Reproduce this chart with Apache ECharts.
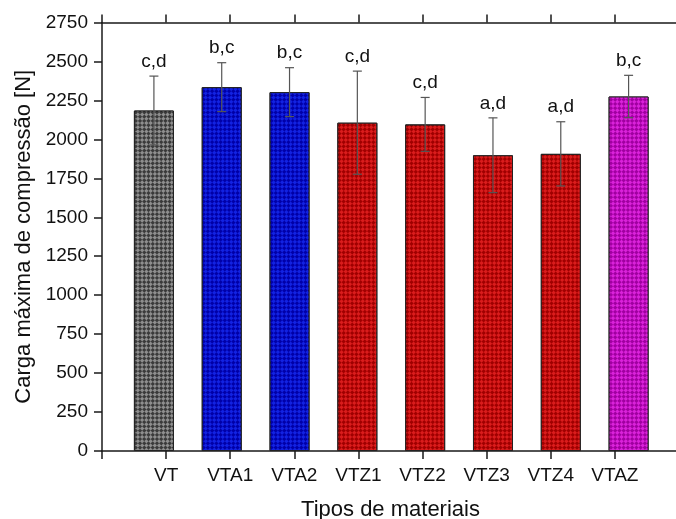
<!DOCTYPE html>
<html>
<head>
<meta charset="utf-8">
<script src="https://cdn.jsdelivr.net/npm/echarts@6/dist/echarts.min.js"></script>
<style>
html,body{margin:0;padding:0;background:#fff;}
#chart{width:676px;height:519px;}
</style>
</head>
<body>
<div id="chart"></div>
<script>
// ---- data ----
var categories = ['VT', 'VTA1', 'VTA2', 'VTZ1', 'VTZ2', 'VTZ3', 'VTZ4', 'VTAZ'];
var means = [2185, 2335, 2303, 2107, 2096, 1898, 1907, 2275];
var sds = [221, 157, 157, 331, 173, 240, 206, 136];
var letters = ['c,d', 'b,c', 'b,c', 'c,d', 'c,d', 'a,d', 'a,d', 'b,c'];
var yTicks = [0, 250, 500, 750, 1000, 1250, 1500, 1750, 2000, 2250, 2500, 2750];

// ---- styles ----
var baseColors = ['#3a3a3a', '#0000a8', '#0000a8', '#a00000', '#a00000', '#a00000', '#a00000', '#a000a0'];
var decalColors = ['#8e8e8e', '#1222e2', '#1222e2', '#da1c1c', '#da1c1c', '#da1c1c', '#da1c1c', '#da22da'];

var FONT = '"Liberation Sans", Arial, sans-serif';
var AX = '#1a1a1a';

var chart = echarts.init(document.getElementById('chart'), null, {renderer: 'canvas'});

var barData = means.map(function (v, i) {
  return {
    value: v,
    itemStyle: {
      color: baseColors[i],
      borderColor: '#222',
      borderWidth: 1,
      decal: {
        symbol: 'rect',
        symbolSize: 1,
        color: decalColors[i],
        dashArrayX: [[3, 3], [0, 3, 3, 0]],
        dashArrayY: [3, 0],
        rotation: Math.PI / 4
      }
    }
  };
});

var errData = means.map(function (v, i) { return [i, v - sds[i], v + sds[i]]; });

var option = {
  animation: false,
  backgroundColor: '#fff',
  grid: [
    {left: 102, right: -3, top: 22.5, bottom: 68, containLabel: false, outerBoundsMode: 'none'},
    {left: 120, right: 13.5, top: 22.5, bottom: 68, containLabel: false, outerBoundsMode: 'none'}
  ],
  xAxis: [
    {
      gridIndex: 0, type: 'value', position: 'bottom', min: 0, max: 9, interval: 1,
      axisLine: {show: true, onZero: false, lineStyle: {color: AX, width: 1.5}},
      axisTick: {show: true, length: 8, inside: false, lineStyle: {color: AX, width: 1.5}},
      splitLine: {show: false},
      axisLabel: {
        show: true, margin: 15, color: '#111', fontSize: 19, fontFamily: FONT,
        showMinLabel: true, showMaxLabel: true,
        formatter: function (v) { return categories[v - 1] || ''; }
      },
      name: 'Tipos de materiais', nameLocation: 'middle', nameGap: 48,
      nameTextStyle: {fontSize: 22, color: '#111', fontFamily: FONT}
    },
    {
      gridIndex: 0, type: 'value', position: 'top', min: 0, max: 9, interval: 1,
      axisLine: {show: true, onZero: false, lineStyle: {color: AX, width: 1.5}},
      axisTick: {show: true, length: 8, inside: false, lineStyle: {color: AX, width: 1.5}},
      splitLine: {show: false},
      axisLabel: {show: false}
    },
    {
      gridIndex: 1, type: 'category', data: categories, show: false, boundaryGap: true
    }
  ],
  yAxis: [
    {
      gridIndex: 0, type: 'value', min: yTicks[0], max: yTicks[yTicks.length - 1], interval: 250,
      axisLine: {show: true, onZero: false, lineStyle: {color: AX, width: 1.5}},
      axisTick: {show: true, length: 8, inside: false, lineStyle: {color: AX, width: 1.5}},
      splitLine: {show: false},
      axisLabel: {margin: 14, color: '#111', fontSize: 19, fontFamily: FONT,
        formatter: function (v) { return String(v); }},
      name: 'Carga máxima de compressão [N]', nameLocation: 'middle', nameGap: 60,
      nameRotate: 90,
      nameTextStyle: {fontSize: 22, color: '#111', fontFamily: FONT}
    },
    {
      gridIndex: 1, type: 'value', min: yTicks[0], max: yTicks[yTicks.length - 1], show: false
    }
  ],
  series: [
    {
      type: 'bar', xAxisIndex: 2, yAxisIndex: 1, data: barData, barWidth: 40, z: 2
    },
    {
      type: 'custom', xAxisIndex: 2, yAxisIndex: 1, data: errData, z: 5,
      renderItem: function (params, api) {
        var x = api.coord([api.value(0), 0])[0];
        var lo = api.coord([api.value(0), api.value(1)])[1];
        var hi = api.coord([api.value(0), api.value(2)])[1];
        var cap = 4.5;
        var ls = {stroke: '#555', lineWidth: 1.2};
        return {
          type: 'group',
          children: [
            {type: 'line', shape: {x1: x, y1: lo, x2: x, y2: hi}, style: ls},
            {type: 'line', shape: {x1: x - cap, y1: hi, x2: x + cap, y2: hi}, style: ls},
            {type: 'line', shape: {x1: x - cap, y1: lo, x2: x + cap, y2: lo}, style: ls},
            {type: 'text', x: x, y: hi - 5, style: {
              text: letters[params.dataIndex], fill: '#111', fontSize: 19, fontFamily: FONT,
              align: 'center', verticalAlign: 'bottom'
            }}
          ]
        };
      }
    }
  ]
};
chart.setOption(option);
</script>
</body>
</html>
